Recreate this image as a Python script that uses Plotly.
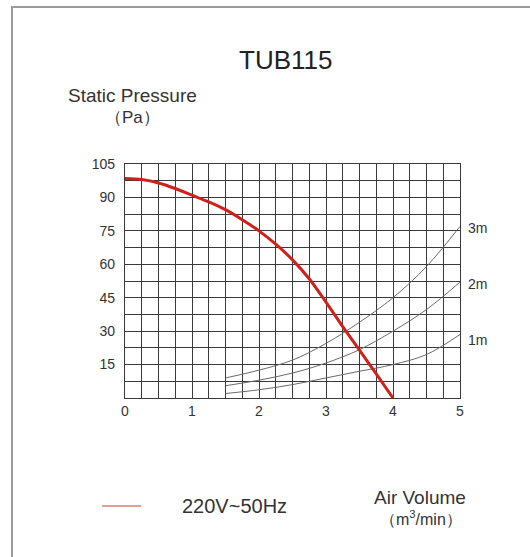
import plotly.graph_objects as go

# Data
fan_x = [0, 0.25, 0.5, 0.75, 1, 1.25, 1.5, 1.75, 2, 2.25, 2.5, 2.75, 3, 3.25, 3.5, 3.75, 4]
fan_y = [98.5, 98, 96.5, 94, 91, 88, 84.5, 80, 75, 69, 62, 53.5, 43, 32, 21.5, 10.8, 0]

sys_x = [1.5, 2, 2.5, 3, 3.5, 4, 4.5, 5]
sys_3m = [9, 12.5, 17, 24.5, 34, 45, 59, 77]
sys_2m = [5.5, 8, 11.2, 15.7, 21.7, 30, 39.7, 52]
sys_1m = [2, 3.7, 6, 9, 12, 15, 19.5, 28.5]
sys_names = ["3m", "2m", "1m"]

x_ticks = [0, 1, 2, 3, 4, 5]
y_ticks = [15, 30, 45, 60, 75, 90, 105]

FONT = "Liberation Sans, Arial, sans-serif"
GRID = "#3a3a3a"

fig = go.Figure()
for ys in (sys_3m, sys_2m, sys_1m):
    fig.add_trace(go.Scatter(x=sys_x, y=ys, mode="lines",
                             line=dict(color="#6a6a6a", width=1, shape="spline"),
                             showlegend=False, hoverinfo="skip"))
fig.add_trace(go.Scatter(x=fan_x, y=fan_y, mode="lines",
                         line=dict(color="#d0201c", width=3, shape="spline", smoothing=0.8),
                         showlegend=False))

# curve labels
for name, ys in zip(sys_names, (sys_3m, sys_2m, sys_1m)):
    fig.add_annotation(x=5, y=ys[-1], text=name, showarrow=False,
                       xanchor="left", yanchor="middle", xshift=6,
                       yshift=-2 if name != "1m" else -6,
                       font=dict(family=FONT, size=14, color="#333"))

L, R, T, B = 125, 70, 164, 159
W, H = 530, 557
pw, ph = W - L - R, H - T - B

def px(xp):
    return (xp - L) / pw

def py(yp):
    return (H - B - yp) / ph

fig.update_layout(
    width=W, height=H,
    margin=dict(l=L, r=R, t=T, b=B),
    paper_bgcolor="white", plot_bgcolor="white",
    font=dict(family=FONT, color="#333"),
    xaxis=dict(range=[0, 5], tickvals=x_ticks, ticktext=[str(v) for v in x_ticks],
               showgrid=True, gridcolor=GRID, gridwidth=1.2,
               minor=dict(dtick=0.25, showgrid=True, gridcolor=GRID, gridwidth=1.2),
               showline=True, linecolor=GRID, linewidth=1.2, mirror=True,
               zeroline=False, ticks="", tickfont=dict(size=14, color="#333")),
    yaxis=dict(range=[0, 105], tickvals=y_ticks, ticktext=[str(v) for v in y_ticks],
               showgrid=True, gridcolor=GRID, gridwidth=1.2,
               minor=dict(dtick=7.5, showgrid=True, gridcolor=GRID, gridwidth=1.2),
               showline=True, linecolor=GRID, linewidth=1.2, mirror=True,
               zeroline=False, ticks="", ticklabelstandoff=6,
               tickfont=dict(size=14, color="#333")),
)

# outer frame: left and top edges as thin filled bars
fig.add_shape(type="rect", xref="paper", yref="paper", layer="below",
              x0=px(11), y0=py(H), x1=px(13), y1=py(6),
              line=dict(width=0), fillcolor="#9a9a9a")
fig.add_shape(type="rect", xref="paper", yref="paper", layer="below",
              x0=px(11), y0=py(8), x1=px(W), y1=py(6),
              line=dict(width=0), fillcolor="#9a9a9a")

def label(xp, yp, text, size, color="#333", xanchor="center"):
    fig.add_annotation(xref="paper", yref="paper", x=px(xp), y=py(yp),
                       text=text, showarrow=False, xanchor=xanchor, yanchor="middle",
                       font=dict(family=FONT, size=size, color=color))

# titles and labels
label(285, 60, "TUB115", 26, "#222")
label(132, 96, "Static Pressure", 19)
label(132, 117, "（Pa）", 17)

# legend
fig.add_shape(type="line", xref="paper", yref="paper",
              x0=px(102), y0=py(506), x1=px(141), y1=py(506),
              line=dict(color="#e07a7a", width=1.5))
label(180, 506, "220V~50Hz", 20, xanchor="left")
label(420, 497, "Air Volume", 19)
label(421, 518, "（m<sup>3</sup>/min）", 16)

fig.write_html("out.html", config={"displayModeBar": False},
               post_script="document.body.style.margin='0';document.body.style.overflow='hidden';")
